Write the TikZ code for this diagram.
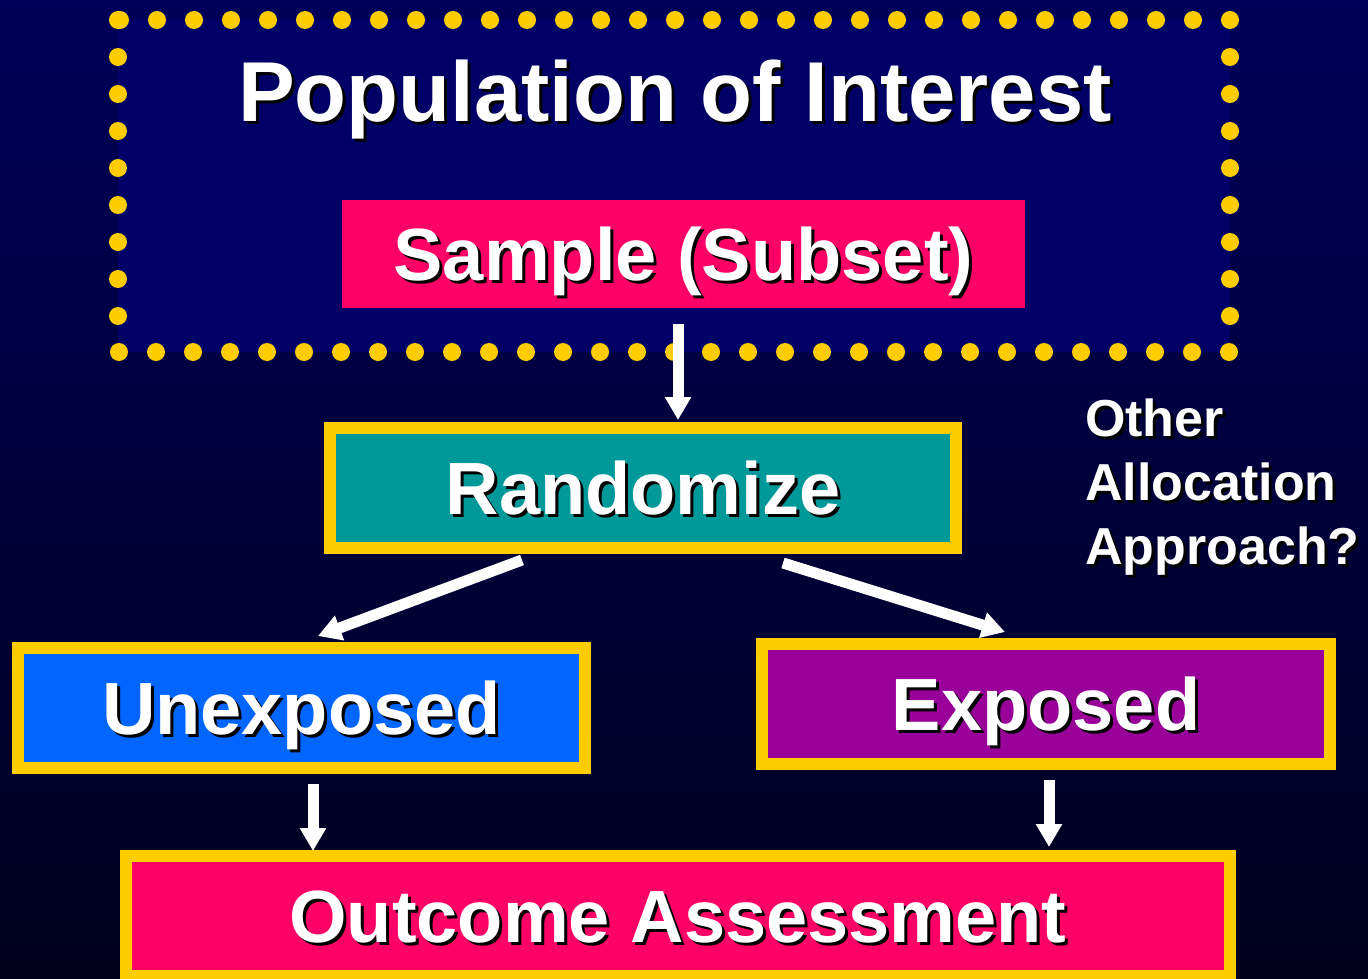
\documentclass[tikz,border=0pt]{standalone}
\usepackage{fontspec}
\setmainfont{Liberation Sans}
\usetikzlibrary{arrows.meta}
\definecolor{navy}{HTML}{000066}
\definecolor{bgtop}{HTML}{00005A}
\definecolor{bgbot}{HTML}{00001C}
\definecolor{gold}{HTML}{FFCC00}
\definecolor{hotpink}{HTML}{FF0066}
\definecolor{teal}{HTML}{009999}
\definecolor{brightblue}{HTML}{0066FF}
\definecolor{plum}{HTML}{990099}
% white text with a black drop shadow
\newcommand{\shtext}[1]{\makebox[0pt][l]{\kern3pt\raisebox{-3pt}{\color{black}#1}}#1}
\begin{document}
\begin{tikzpicture}[x=1pt,y=-1pt,
    box/.style={rectangle,draw=gold,line width=12pt,inner sep=0pt,outer sep=0pt,
      minimum height=120pt,text=white,font=\bfseries\fontsize{74}{80}\selectfont,
      text height=53pt,text depth=0pt},
    flowarrow/.style={draw=white,line width=11pt,-{Triangle[width=25pt,length=23pt]}}]
  \useasboundingbox (0,0) rectangle (1368,979);
  \shade[top color=bgtop,bottom color=bgbot] (0,0) rectangle (1368,979);
  \fill[navy] (118,20) rectangle (1230,352);
  \draw[gold,line width=18pt,line cap=round,dash pattern=on 0pt off 37pt]
    (118,20) rectangle (1230,352);
  \node[text=white,font=\bfseries\fontsize{85}{90}\selectfont,
    text height=61pt,text depth=0pt,inner sep=0pt] (pop) at (675,91)
    {\shtext{Population of Interest}};
  \node[box,draw=none,fill=hotpink,minimum width=683pt,minimum height=108pt]
    (sample) at (683.5,254) {\shtext{Sample (Subset)}};
  \node[box,fill=teal,minimum width=626pt] (rand) at (643,488) {\shtext{Randomize}};
  \node[box,fill=brightblue,minimum width=567pt] (unexp) at (301.5,708) {\shtext{Unexposed}};
  \node[box,fill=plum,minimum width=568pt] (exp) at (1046,704) {\shtext{Exposed}};
  \node[box,fill=hotpink,minimum width=1104pt] (outc) at (678,916) {\shtext{Outcome Assessment}};
  \node[anchor=north west,inner sep=0pt,align=left,text=white,
    font=\bfseries\fontsize{52}{64}\selectfont] (other) at (1085,399)
    {\shtext{Other}\\\shtext{Allocation}\\\shtext{Approach?}};
  \begin{scope}[flowarrow]
    \draw ([xshift=-5.5pt,yshift=-16pt]sample.south) -- ([xshift=-5.5pt,yshift=8pt]sample.south |- rand.north);
    \draw ([xshift=-121pt,yshift=-12pt]rand.south) -- ([xshift=16.5pt,yshift=12pt]unexp.north);
    \draw ([xshift=140pt,yshift=-15pt]rand.south) -- ([xshift=-41pt,yshift=12pt]exp.north);
    \draw ([xshift=11.5pt,yshift=-16pt]unexp.south) -- ([xshift=11.5pt,yshift=5pt]unexp.south |- outc.north);
    \draw ([xshift=3pt,yshift=-16pt]exp.south) -- ([xshift=3pt,yshift=9pt]exp.south |- outc.north);
  \end{scope}
\end{tikzpicture}
\end{document}
